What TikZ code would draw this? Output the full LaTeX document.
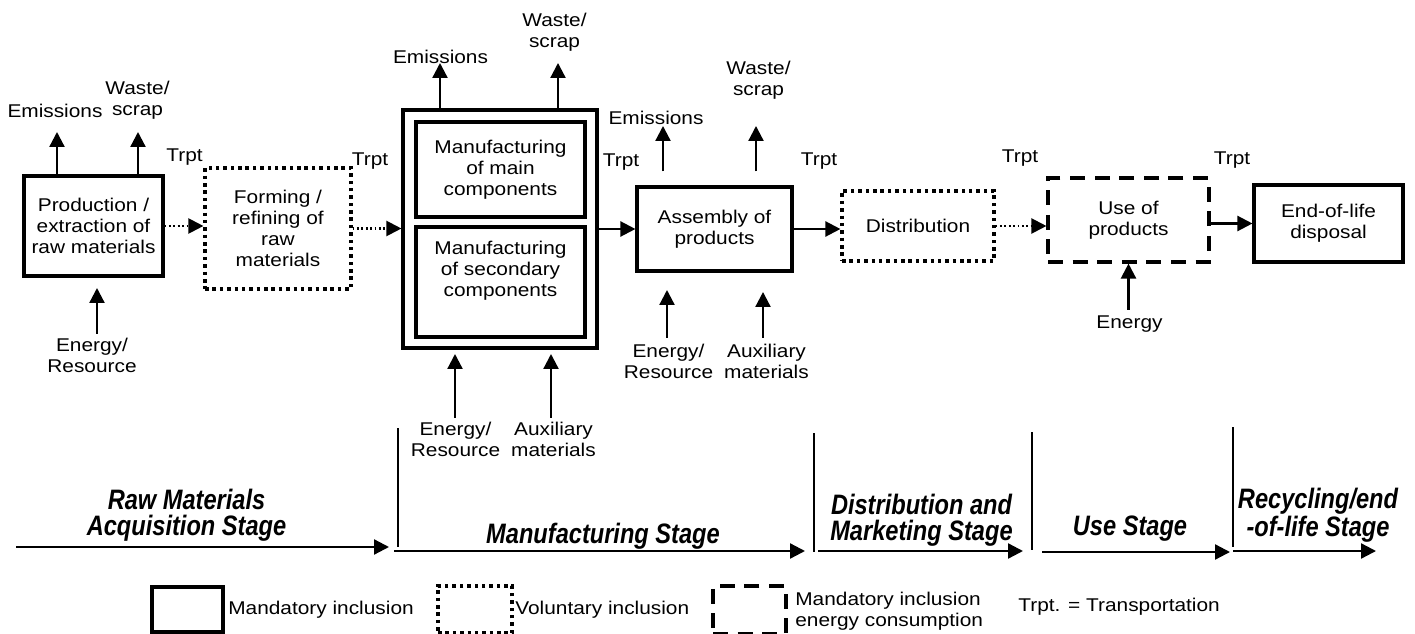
\documentclass[tikz,border=0pt]{standalone}
\usepackage{fontspec}
\setmainfont[FakeStretch=1.13]{Liberation Sans}
\newfontfamily\stagefont[FakeStretch=0.84]{Liberation Sans}
\usetikzlibrary{arrows.meta,positioning}

\begin{document}
\begin{tikzpicture}[x=0.02cm, y=-0.02cm,
                    font=\fontsize{10.5}{12}\selectfont,
                    >={Triangle[length=0.3cm,width=0.3cm]},
                    box/.style={draw, line width=1.8pt, align=center, inner sep=1pt},
                    optbox/.style={box, dash pattern=on 2pt off 2.2pt},
                    energybox/.style={box, dash pattern=on 8.5pt off 5.5pt},
                    lbl/.style={align=center, inner sep=0pt},
                    arr/.style={->, line width=1.3pt},
                    dotarr/.style={->, line width=1.2pt, dash pattern=on 1pt off 1.5pt},
                    stage/.style={align=center, inner sep=0pt,
                                  font=\stagefont\bfseries\itshape\fontsize{16}{14.8}\selectfont},
                    stagearr/.style={->, line width=1.3pt},
                    sep/.style={line width=1.2pt}]
                    \useasboundingbox (0,0) rectangle (1415,634);

                    % process boxes
                    \node[box, minimum width=2.78cm, minimum height=2cm] (prod) at (93.5,226)
                        {Production /\\extraction of\\raw materials};
                    \node[optbox, minimum width=2.92cm, minimum height=2.42cm] (form) at (278,228.5)
                        {Forming /\\refining of\\raw\\materials};
                    \node[box, minimum width=3.88cm, minimum height=4.76cm] (mfg) at (500,229) {};
                    \node[box, minimum width=3.38cm, minimum height=1.9cm] (mfgmain) at (500.5,169.5)
                        {Manufacturing\\of main\\components};
                    \node[box, minimum width=3.38cm, minimum height=2.2cm] (mfgsec) at (500.5,282) {};
                    \node[lbl] (mfgsectxt) at (500.5,271) {Manufacturing\\of secondary\\components};
                    \node[box, minimum width=3.1cm, minimum height=1.68cm] (asm) at (714.5,229)
                        {Assembly of\\products};
                    \node[optbox, minimum width=3.04cm, minimum height=1.4cm] (dist) at (918,226)
                        {Distribution};
                    \node[energybox, minimum width=3.22cm, minimum height=1.68cm] (use) at (1128.5,220)
                        {Use of\\products};
                    \node[box, minimum width=2.98cm, minimum height=1.54cm] (eol) at (1328.5,223.5)
                        {End-of-life\\disposal};

                    % flow between stages
                    \draw[dotarr] (prod.east) -- (prod.east -| form.west);
                    \draw[dotarr] (form.east) -- (form.east -| mfg.west);
                    \draw[arr] (mfg.east) -- (mfg.east -| asm.west);
                    \draw[arr] (asm.east) -- (asm.east -| dist.west);
                    \draw[dotarr] (dist.east) -- (dist.east -| use.west);
                    \draw[arr] (eol.west -| use.east) -- (eol.west);

                    \node[lbl] (trpt1) at (184.5,157.5) {Trpt};
                    \node[lbl] (trpt2) at (370,161.5) {Trpt};
                    \node[lbl] (trpt3) at (621,162) {Trpt};
                    \node[lbl] (trpt4) at (819,161) {Trpt};
                    \node[lbl] (trpt5) at (1020,158.5) {Trpt};
                    \node[lbl] (trpt6) at (1232,160) {Trpt};

                    % outputs and inputs
                    \node[lbl] (pemilbl) at (55,111) {Emissions};
                    \node[lbl] (pwstlbl) at (137.5,100) {Waste/\\scrap};
                    \node[lbl] (penlbl) at (92,355.5) {Energy/\\Resource};
                    \coordinate (pemi) at (57,132);
                    \coordinate (pwst) at (138,132);
                    \coordinate (pen) at (97,288);
                    \draw[arr] (pemi |- prod.north) -- (pemi);
                    \draw[arr] (pwst |- prod.north) -- (pwst);
                    \draw[arr, shorten <=0.08cm] (penlbl.north -| pen) -- (pen);

                    \node[lbl] (memilbl) at (440.5,57) {Emissions};
                    \node[lbl] (mwstlbl) at (554.5,32.5) {Waste/\\scrap};
                    \node[lbl] (menlbl) at (455.5,439.5) {Energy/\\Resource};
                    \node[lbl] (mauxlbl) at (553.5,439.5) {Auxiliary\\materials};
                    \coordinate (memi) at (440,63);
                    \coordinate (mwst) at (558,63);
                    \coordinate (men) at (455,354);
                    \coordinate (maux) at (551,354);
                    \draw[arr] (memi |- mfg.north) -- (memi);
                    \draw[arr] (mwst |- mfg.north) -- (mwst);
                    \draw[arr, shorten <=0.08cm] (menlbl.north -| men) -- (men);
                    \draw[arr, shorten <=0.08cm] (mauxlbl.north -| maux) -- (maux);

                    \node[lbl] (aemilbl) at (656,118) {Emissions};
                    \node[lbl] (awstlbl) at (758.5,80) {Waste/\\scrap};
                    \node[lbl] (aenlbl) at (668.5,361.5) {Energy/\\Resource};
                    \node[lbl] (aauxlbl) at (766.5,361.5) {Auxiliary\\materials};
                    \coordinate (aemi) at (663,126);
                    \coordinate (awst) at (756,126);
                    \coordinate (aen) at (667,290);
                    \coordinate (aaux) at (763,292);
                    \draw[arr, shorten <=0.28cm] (aemi |- asm.north) -- (aemi);
                    \draw[arr, shorten <=0.28cm] (awst |- asm.north) -- (awst);
                    \draw[arr, shorten <=0.12cm] (aenlbl.north -| aen) -- (aen);
                    \draw[arr, shorten <=0.12cm] (aauxlbl.north -| aaux) -- (aaux);

                    \node[lbl] (uenlbl) at (1129.5,324.5) {Energy};
                    \draw[arr, shorten <=0.12cm] (uenlbl.north -| use.south) -- (use.south);

                    % life cycle stages
                    \foreach \xa/\xb/\y in {16/389/547, 394/805/551, 818/1023/551, 1042/1230/552, 1233/1376/551}
                        \draw[stagearr] (\xa,\y) -- (\xb,\y);
                    \foreach \x/\ya/\yb in {398/428/547, 814/433/552, 1032/432/550, 1233/427/547}
                        \draw[sep] (\x,\ya) -- (\x,\yb);
                    \node[stage] (rawstage) at (186.5,515.5) {Raw Materials\\Acquisition Stage};
                    \node[stage] (mfgstage) at (603,536) {Manufacturing Stage};
                    \node[stage] (diststage) at (921.5,520) {Distribution and\\Marketing Stage};
                    \node[stage] (usestage) at (1130,529) {Use Stage};
                    \node[stage] (eolstage) at (1318,515.5) {Recycling/end\\-of-life Stage};

                    % legend
                    \node[box, minimum width=1.42cm, minimum height=0.9cm] (legmand) at (187.5,609.5) {};
                    \node[lbl, anchor=west] (legmandtxt) at (228,610) {Mandatory inclusion};
                    \node[optbox, minimum width=1.48cm, minimum height=0.94cm] (legvol) at (475,609.5) {};
                    \node[lbl, anchor=west] (legvoltxt) at (515,610) {Voluntary inclusion};
                    \node[energybox, minimum width=1.46cm, minimum height=0.96cm] (legen) at (749.5,610) {};
                    \node[lbl, anchor=west, align=left] (legentxt) at (795,611.5)
                        {Mandatory inclusion\\energy consumption};
                    \node[lbl, anchor=west] (legtrpt) at (1018,607) {Trpt. = Transportation};
                \end{tikzpicture}
\end{document}
